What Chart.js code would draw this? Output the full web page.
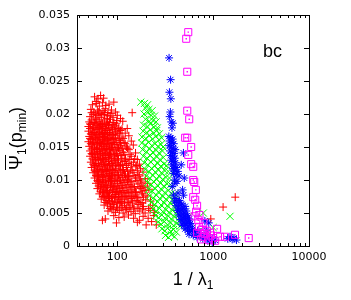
<!DOCTYPE html>
<html>
<head>
<meta charset="utf-8">
<script src="https://cdn.jsdelivr.net/npm/chart.js@4/dist/chart.umd.min.js"></script>
<style>
  html, body { margin: 0; padding: 0; background: #fff; }
  #wrap { width: 351px; height: 300px; }
</style>
</head>
<body>
<div id="wrap"><canvas id="chart" width="351" height="300"></canvas></div>
<script>
// axis ticks
const xTicks = [100, 1000, 10000];
const yTicks = [0, 0.005, 0.01, 0.015, 0.02, 0.025, 0.03, 0.035];

// red "+" cloud
const redPts = [
  [58,.0226],[63,.0223],[67,.0228],[72,.0224],[61,.0219],
  [55,.0214],[60,.0216],[65,.0212],[70,.0217],[76,.0213],[82,.0215],[92,.0218],
  [53,.0207],[57,.0203],[62,.0206],[66,.0201],[71,.0205],[75,.0208],[80,.0202],[87,.0206],[96,.0203],[143,.0202],
  [54,.0202],[59,.0200],[64,.0203],[69,.0199],[74,.0202],[79,.0198],[86,.0201],
  [52,.0196],[56,.0199],[59,.0194],[63,.0198],[68,.0195],[73,.0199],[78,.0193],[84,.0197],[90,.0195],[100,.0198],[108,.0193],
  [51,.0188],[54,.0191],[58,.0187],[61,.0192],[65,.0189],[70,.0186],[74,.0191],[79,.0188],[85,.0192],[92,.0187],[99,.0190],[114,.0189],
  [52,.0185],[56,.0187],[60,.0185],[63,.0186],[68,.0183],[73,.0186],[77,.0184],[83,.0187],[90,.0184],[98,.0186],
  [50,.0181],[53,.0184],[57,.0180],[60,.0183],[64,.0179],[67,.0184],[71,.0181],[76,.0178],[81,.0183],[88,.0180],[95,.0182],[104,.0179],[127,.0178],
  [52,.0178],[56,.0179],[60,.0177],[65,.0180],[70,.0178],[75,.0179],[80,.0177],[86,.0179],[93,.0177],[102,.0178],[112,.0177],
  [50,.0174],[55,.0176],[58,.0172],[62,.0177],[66,.0173],[69,.0176],[73,.0171],[78,.0175],[83,.0172],[89,.0176],[97,.0173],[108,.0175],[121,.0171],
  [53,.0170],[56,.0172],[60,.0171],[65,.0169],[70,.0172],[74,.0170],[79,.0169],[84,.0171],[90,.0169],[96,.0170],[105,.0171],
  [51,.0166],[54,.0169],[57,.0164],[61,.0168],[64,.0165],[68,.0170],[72,.0166],[76,.0168],[80,.0163],[86,.0167],[92,.0164],[100,.0168],[112,.0165],[132,.0167],
  [52,.0163],[55,.0162],[59,.0165],[62,.0162],[66,.0164],[70,.0162],[74,.0164],[78,.0161],[82,.0164],[88,.0162],[95,.0163],[104,.0162],[115,.0163],
  [50,.0158],[53,.0161],[56,.0157],[59,.0162],[63,.0159],[67,.0156],[70,.0161],[74,.0158],[79,.0160],[84,.0156],[90,.0161],[97,.0157],[106,.0160],[118,.0157],[140,.0159],
  [53,.0155],[57,.0156],[61,.0155],[65,.0157],[68,.0153],[72,.0155],[76,.0154],[80,.0156],[86,.0155],[92,.0157],[99,.0154],[108,.0156],[121,.0155],
  [51,.0151],[55,.0154],[58,.0149],[62,.0153],[65,.0150],[69,.0155],[73,.0151],[77,.0148],[82,.0153],[87,.0150],[94,.0154],[101,.0149],[110,.0152],[125,.0150],[147,.0153],
  [54,.0147],[58,.0148],[61,.0146],[65,.0147],[69,.0148],[73,.0146],[78,.0148],[83,.0147],[89,.0149],[95,.0146],[103,.0148],[113,.0147],[128,.0148],
  [52,.0144],[56,.0141],[60,.0146],[63,.0143],[67,.0140],[71,.0145],[75,.0142],[80,.0146],[85,.0141],[91,.0144],[98,.0140],[106,.0145],[116,.0142],[132,.0146],[155,.0141],
  [54,.0140],[58,.0139],[62,.0141],[66,.0138],[70,.0140],[75,.0139],[80,.0140],[86,.0138],[93,.0139],[100,.0137],[109,.0139],[120,.0138],[136,.0139],
  [52,.0136],[55,.0139],[59,.0134],[62,.0138],[66,.0135],[70,.0132],[73,.0137],[78,.0134],[83,.0138],[88,.0133],[95,.0136],[103,.0132],[112,.0137],[122,.0133],[140,.0136],[162,.0131],
  [55,.0132],[59,.0131],[63,.0133],[67,.0131],[71,.0133],[76,.0131],[81,.0132],[87,.0130],[94,.0132],[101,.0130],[110,.0132],[121,.0130],[135,.0131],[152,.0132],
  [53,.0127],[57,.0129],[60,.0125],[64,.0130],[68,.0126],[72,.0129],[76,.0124],[81,.0128],[86,.0125],[92,.0129],[99,.0126],[108,.0123],[118,.0128],[130,.0125],[148,.0127],[170,.0124],
  [56,.0124],[60,.0122],[64,.0124],[69,.0123],[73,.0124],[78,.0122],[83,.0123],[89,.0122],[96,.0124],[104,.0122],[113,.0124],[125,.0122],[141,.0123],[160,.0122],
  [54,.0119],[58,.0121],[62,.0117],[66,.0120],[70,.0116],[74,.0121],[79,.0118],[84,.0115],[89,.0120],[96,.0117],[104,.0121],[113,.0116],[124,.0119],[138,.0115],[156,.0120],[175,.0117],
  [58,.0115],[62,.0114],[66,.0116],[71,.0114],[75,.0115],[80,.0114],[86,.0116],[92,.0114],[99,.0115],[107,.0114],[116,.0115],[128,.0113],[143,.0115],[162,.0114],
  [56,.0111],[60,.0113],[64,.0109],[68,.0112],[72,.0108],[77,.0113],[82,.0110],[87,.0107],[93,.0111],[101,.0108],[109,.0112],[119,.0109],[131,.0106],[146,.0111],[165,.0108],[185,.0112],
  [60,.0107],[64,.0106],[68,.0108],[73,.0106],[78,.0107],[83,.0106],[89,.0108],[95,.0106],[103,.0107],[112,.0106],[122,.0107],[135,.0105],[150,.0107],[170,.0106],
  [58,.0103],[62,.0105],[66,.0101],[70,.0104],[75,.0100],[80,.0105],[85,.0102],[90,.0099],[97,.0103],[105,.0100],[114,.0104],[126,.0101],[139,.0098],[155,.0103],[175,.0100],[196,.0102],
  [62,.0099],[66,.0098],[70,.0100],[76,.0098],[81,.0099],[87,.0098],[93,.0100],[100,.0098],[108,.0099],[117,.0097],[128,.0099],[142,.0097],[160,.0099],[180,.0097],
  [60,.0095],[64,.0097],[68,.0093],[72,.0096],[77,.0092],[82,.0097],[88,.0094],[94,.0091],[101,.0095],[110,.0092],[120,.0096],[132,.0093],[146,.0090],[164,.0094],[185,.0091],[206,.0095],
  [64,.0091],[69,.0090],[74,.0091],[79,.0089],[85,.0091],[91,.0090],[97,.0091],[104,.0089],[113,.0091],[123,.0089],[136,.0091],[151,.0089],[169,.0090],[190,.0089],
  [62,.0087],[67,.0089],[71,.0085],[75,.0088],[80,.0084],[86,.0089],[92,.0086],[98,.0083],[106,.0087],[115,.0084],[126,.0088],[139,.0085],[155,.0082],[174,.0087],[195,.0084],[214,.0086],
  [67,.0083],[72,.0082],[77,.0083],[83,.0081],[89,.0083],[95,.0082],[101,.0083],[109,.0081],[118,.0083],[129,.0081],[142,.0083],[158,.0081],[178,.0082],
  [65,.0079],[70,.0081],[74,.0077],[79,.0080],[84,.0076],[90,.0081],[96,.0078],[103,.0075],[111,.0079],[121,.0076],[132,.0080],[146,.0077],[162,.0074],[183,.0079],[205,.0076],
  [71,.0075],[76,.0074],[81,.0075],[87,.0073],[93,.0075],[99,.0074],[106,.0075],[114,.0073],[124,.0075],[136,.0073],[150,.0075],[168,.0073],[188,.0074],
  [68,.0071],[73,.0073],[78,.0069],[83,.0072],[89,.0068],[95,.0073],[102,.0070],[109,.0067],[118,.0071],[129,.0068],[141,.0072],[157,.0069],[176,.0066],[198,.0070],[222,.0068],
  [76,.0066],[82,.0067],[88,.0065],[94,.0067],[101,.0066],[110,.0067],[119,.0065],[130,.0066],[144,.0065],[161,.0067],[182,.0065],
  [73,.0062],[79,.0064],[85,.0060],[91,.0063],[98,.0059],[106,.0064],[114,.0061],[124,.0058],[136,.0062],[150,.0059],[168,.0063],[188,.0060],[212,.0057],[235,.0061],
  [84,.0057],[92,.0058],[100,.0056],[110,.0058],[121,.0056],[133,.0058],[147,.0056],[164,.0057],[183,.0056],
  [80,.0053],[88,.0055],[96,.0051],[105,.0054],[115,.0050],[126,.0055],[139,.0052],[154,.0049],[172,.0053],[195,.0050],[220,.0054],[245,.0051],
  [75,.0041],[92,.0046],[104,.0043],[118,.0044],[131,.0047],[148,.0042],[170,.0039],[186,.0045],[210,.0042],[240,.0046],
  [70,.0039],[98,.0035],[162,.0036],[200,.0032],[255,.0032],[228,.0037],
  [945,.0041],[1270,.0059],[1700,.0074]
];

// green "x" band
const greenPts = [
  [176,.0218],[192,.0216],[207,.0214],
  [196,.0209],[214,.0207],[231,.0205],
  [190,.0200],[208,.0202],[226,.0198],[245,.0197],
  [197,.0192],[216,.0189],[236,.0190],[254,.0188],
  [188,.0183],[205,.0181],[222,.0185],[242,.0180],[262,.0179],
  [186,.0174],[203,.0172],[221,.0176],[240,.0171],[258,.0175],[275,.0170],
  [181,.0165],[198,.0163],[216,.0167],[233,.0162],[252,.0166],[272,.0161],[290,.0164],
  [180,.0156],[196,.0153],[212,.0157],[229,.0152],[247,.0155],[266,.0151],[286,.0154],[300,.0150],
  [184,.0146],[201,.0143],[218,.0147],[235,.0142],[254,.0145],[274,.0141],[296,.0144],
  [187,.0136],[204,.0133],[221,.0137],[239,.0132],[258,.0135],[279,.0131],[302,.0134],
  [191,.0126],[208,.0123],[225,.0127],[244,.0122],[264,.0125],[285,.0121],[308,.0124],[328,.0122],
  [196,.0116],[213,.0113],[230,.0117],[249,.0112],[269,.0115],[290,.0111],[314,.0114],[340,.0113],[395,.0115],
  [201,.0106],[218,.0103],[236,.0107],[255,.0102],[276,.0105],[298,.0101],[322,.0104],[350,.0103],
  [207,.0096],[224,.0093],[242,.0097],[262,.0092],[283,.0095],[306,.0091],[331,.0094],[360,.0093],
  [212,.0086],[230,.0083],[249,.0087],[269,.0082],[291,.0085],[314,.0081],[340,.0084],[368,.0080],[398,.0079],
  [218,.0076],[237,.0073],[256,.0077],[277,.0072],[299,.0075],[323,.0071],[349,.0074],[378,.0070],[410,.0069],
  [226,.0066],[245,.0063],[265,.0067],[286,.0062],[309,.0065],[334,.0061],[361,.0064],[391,.0060],[425,.0059],
  [236,.0056],[255,.0053],[276,.0057],[298,.0052],[322,.0055],[348,.0051],[376,.0054],[407,.0050],[440,.0049],
  [250,.0046],[270,.0043],[292,.0047],[315,.0042],[340,.0045],[367,.0041],[396,.0044],[428,.0040],[465,.0039],
  [266,.0036],[287,.0033],[310,.0037],[334,.0032],[360,.0035],[388,.0031],[418,.0034],[452,.0030],
  [292,.0026],[314,.0023],[336,.0027],[360,.0022],[386,.0025],[414,.0021],
  [318,.0016],[342,.0013],[368,.0017],[395,.0014],
  [520,.0034],[560,.0045],[610,.0028],[700,.0022],[790,.0050],[880,.0016],[1000,.0028],[1500,.0045]
];

// blue "*" column and lower cluster
const bluePts = [
  [347,.0285],[360,.0252],[350,.0233],[362,.0223],[358,.0203],[352,.0196],[366,.0188],[372,.0179],[380,.0186],
  [345,.0166],[362,.0164],[378,.0162],[352,.0159],[370,.0157],[388,.0155],[348,.0152],[365,.0150],[383,.0148],
  [402,.0146],[356,.0144],[374,.0142],[392,.0140],[360,.0137],[378,.0135],[398,.0133],[365,.0130],[384,.0128],
  [404,.0126],[372,.0123],[392,.0121],[412,.0119],[380,.0117],[400,.0115],[428,.0113],[490,.0141],[465,.0123],
  [385,.0110],[410,.0108],[440,.0106],[500,.0103],[395,.0100],[420,.0098],[400,.0095],[375,.0090],[480,.0085],
  [490,.0077],[385,.0077],[430,.0080],[410,.0072],
  [395,.0068],[420,.0066],[445,.0069],[470,.0064],[410,.0061],[435,.0059],[460,.0062],[485,.0057],[510,.0060],
  [425,.0054],[450,.0052],[475,.0055],[500,.0050],[525,.0053],[440,.0047],[465,.0045],[490,.0048],[515,.0043],
  [540,.0046],[565,.0041],[455,.0040],[480,.0038],[505,.0041],[530,.0036],[555,.0039],[580,.0034],[470,.0033],
  [495,.0031],[520,.0034],[545,.0029],[570,.0032],[600,.0027],[510,.0026],[540,.0024],[570,.0022],[610,.0025],
  [650,.0021],[690,.0023],[560,.0018],[620,.0016],[680,.0013],[730,.0017],
  [780,.0011],[830,.0014],[880,.0008],[930,.0012],[980,.0006],[1050,.0009],[850,.0024],[900,.0035],[820,.0038],
  [1420,.0011],[1500,.0014],[1580,.0010],[1650,.0012],[1750,.0009]
];

// magenta squares
const magentaPts = [
  [550,.0324],[524,.0314],[537,.0264],[537,.0205],[563,.0192],[537,.0164],[511,.0164],[590,.0150],
  [550,.0138],[590,.0124],[620,.0120],[620,.0100],[635,.0097],[660,.0085],[620,.0074],[650,.0070],
  [680,.0061],[665,.0052],[640,.0045],[720,.0047],[700,.0039],[790,.0035],[710,.0029],[760,.0025],
  [860,.0023],[930,.0020],[680,.0020],[820,.0018],[950,.0016],[790,.0014],[1000,.0012],[750,.0010],
  [900,.0009],[1050,.0008],[1100,.0026],[1180,.0014],[1330,.0014],[1690,.0017],[2350,.0012]
];

const toXY = pts => pts.map(p => ({ x: p[0], y: p[1] }));

const FONT_TICK = { family: "'DejaVu Sans', sans-serif", size: 11 };

// inward ticks, full frame, axis titles and the "bc" label
const framePlugin = {
  id: 'frame',
  afterDraw(chart) {
    const ctx = chart.ctx;
    const a = chart.chartArea;
    const xs = chart.scales.x, ys = chart.scales.y;
    ctx.save();
    ctx.strokeStyle = '#000';
    ctx.lineWidth = 1;
    ctx.strokeRect(Math.round(a.left) + 0.5, Math.round(a.top) + 0.5,
      Math.round(a.right - a.left), Math.round(a.bottom - a.top));

    ctx.beginPath();
    yTicks.forEach(v => {
      const py = Math.round(ys.getPixelForValue(v)) + 0.5;
      ctx.moveTo(a.left, py); ctx.lineTo(a.left + 5, py);
      ctx.moveTo(a.right, py); ctx.lineTo(a.right - 5, py);
    });
    for (let e = 1; e <= 4; e++) {
      for (let d = 1; d <= 9; d++) {
        const v = d * Math.pow(10, e);
        if (v < xs.min || v > xs.max) continue;
        const len = d === 1 ? 5 : 3;
        const px = Math.round(xs.getPixelForValue(v)) + 0.5;
        ctx.moveTo(px, a.bottom); ctx.lineTo(px, a.bottom - len);
        ctx.moveTo(px, a.top); ctx.lineTo(px, a.top + len);
      }
    }
    ctx.stroke();

    ctx.fillStyle = '#000';
    ctx.textBaseline = 'alphabetic';

    // x title: 1 / λ1
    const big = "18px 'Liberation Sans', sans-serif";
    const small = "12px 'Liberation Sans', sans-serif";
    ctx.font = big;
    const w1 = ctx.measureText('1 / \u03bb').width;
    ctx.font = small;
    const w2 = ctx.measureText('1').width;
    const cx = (a.left + a.right) / 2;
    let x0 = cx - (w1 + w2) / 2;
    ctx.font = big; ctx.textAlign = 'left';
    ctx.fillText('1 / \u03bb', x0, 285);
    ctx.font = small;
    ctx.fillText('1', x0 + w1, 289);

    // y title: overline Psi 1 (p min)
    ctx.save();
    ctx.translate(22, 170);
    ctx.rotate(-Math.PI / 2);
    let t = 0;
    ctx.font = big;
    const wPsi = ctx.measureText('\u03a8').width;
    ctx.fillText('\u03a8', t, 0);
    ctx.fillRect(t, -17, wPsi, 1);
    t += wPsi;
    ctx.font = small;
    ctx.fillText('1', t, 4);
    t += ctx.measureText('1').width;
    ctx.font = big;
    ctx.fillText('(p', t, 0);
    t += ctx.measureText('(p').width;
    ctx.font = small;
    ctx.fillText('min', t, 4);
    t += ctx.measureText('min').width;
    ctx.font = big;
    ctx.fillText(')', t, 0);
    ctx.restore();

    // panel label
    ctx.font = big;
    ctx.fillText('bc', 263, 57);
    ctx.restore();
  }
};

new Chart(document.getElementById('chart'), {
  type: 'scatter',
  data: {
    datasets: [
      { label: 'red', data: toXY(redPts), pointStyle: 'cross', pointRadius: 4,
        borderColor: '#ff0000', backgroundColor: '#ff0000', borderWidth: 1, order: 5 },
      { label: 'green', data: toXY(greenPts), pointStyle: 'crossRot', pointRadius: 5,
        borderColor: '#00ff00', backgroundColor: '#00ff00', borderWidth: 1, order: 4 },
      { label: 'blue', data: toXY(bluePts), pointStyle: 'star', pointRadius: 4,
        borderColor: '#0000ff', backgroundColor: '#0000ff', borderWidth: 1, order: 3 },
      { label: 'magenta', data: toXY(magentaPts), pointStyle: 'rect', pointRadius: 5,
        borderColor: '#ff00ff', backgroundColor: 'rgba(0,0,0,0)', borderWidth: 1, order: 2 },
      { label: 'magenta dot', data: toXY(magentaPts), pointStyle: 'rect', pointRadius: 1,
        borderColor: '#ff00ff', backgroundColor: '#ff00ff', borderWidth: 0, order: 1 }
    ]
  },
  options: {
    responsive: false,
    animation: false,
    events: [],
    layout: { padding: { left: 0, right: 42, top: 15, bottom: 0 } },
    plugins: { legend: { display: false }, tooltip: { enabled: false } },
    scales: {
      x: {
        type: 'logarithmic',
        min: 38,
        max: 10000,
        grid: { display: false, drawTicks: false },
        border: { display: false },
        afterBuildTicks: s => { s.ticks = xTicks.map(v => ({ value: v })); },
        afterFit: s => { s.height = 54; },
        ticks: {
          font: FONT_TICK, color: '#000', padding: 5, maxRotation: 0, autoSkip: false,
          callback: v => String(v)
        }
      },
      y: {
        min: 0,
        max: 0.035,
        grid: { display: false, drawTicks: false },
        border: { display: false },
        afterBuildTicks: s => { s.ticks = yTicks.map(v => ({ value: v })); },
        afterFit: s => { s.width = 77; },
        ticks: {
          font: FONT_TICK, color: '#000', padding: 7,
          callback: v => v === 0 ? '0' : String(+v.toFixed(3))
        }
      }
    }
  },
  plugins: [framePlugin]
});
</script>
</body>
</html>
